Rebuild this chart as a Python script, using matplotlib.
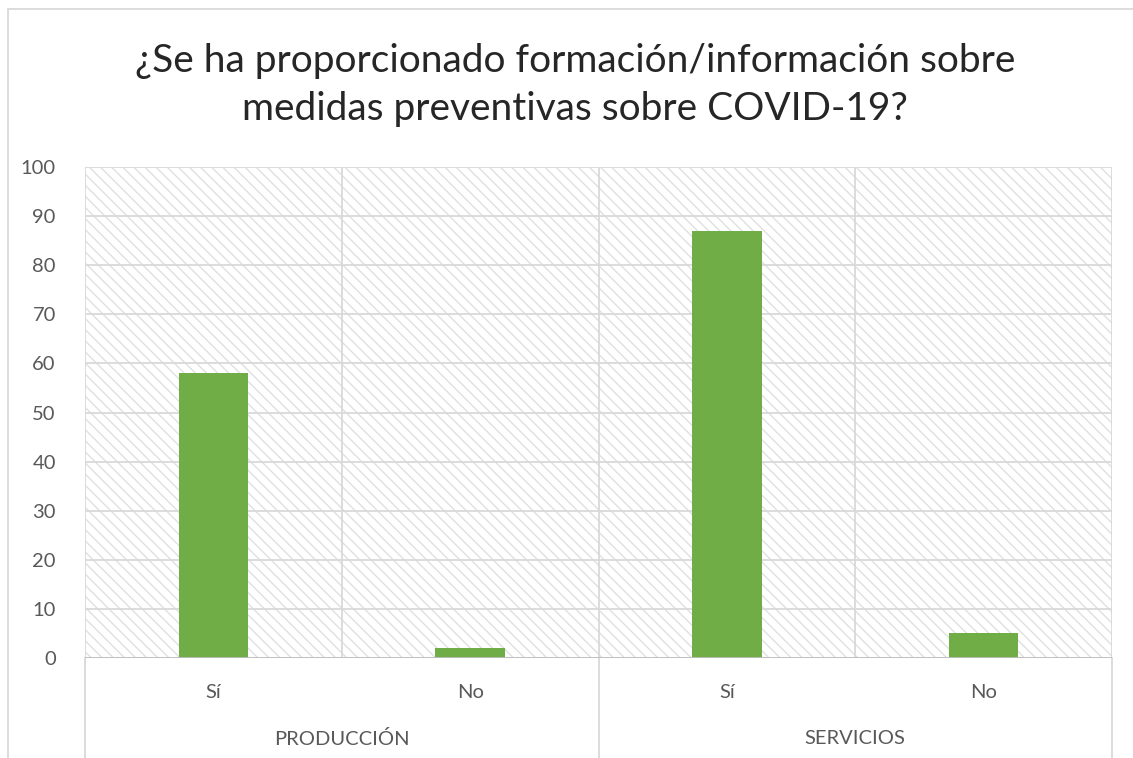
import numpy as np
import matplotlib.pyplot as plt
from matplotlib.patches import Rectangle
import matplotlib.transforms as mtransforms

plt.rcParams['font.family'] = ['Lato', 'DejaVu Sans']
plt.rcParams['hatch.linewidth'] = 1.0

# data
groups = ['PRODUCCIÓN', 'SERVICIOS']
answers = ['Sí', 'No', 'Sí', 'No']
values = [58, 2, 87, 5]
title = '¿Se ha proporcionado formación/información sobre\nmedidas preventivas sobre COVID-19?'

grid_col = '#d9d9d9'
text_col = '#595959'

fig = plt.figure(figsize=(11.33, 7.58), dpi=100)
ax = fig.add_axes([85/1133, 1 - 658/758, (1112 - 85)/1133, (658 - 167)/758])

# outer chart border
fig.patches.append(Rectangle((8/1133, -0.1), 1.2, 1 - 9/758 + 0.1, transform=fig.transFigure,
                             fill=False, edgecolor=grid_col, lw=1.3, zorder=0))

# hatched plot area
ax.patch.set_alpha(0)
ax.add_patch(Rectangle((0, 0), 1, 1, transform=ax.transAxes, facecolor='white',
                       edgecolor='#e0e0e0', hatch='\\\\\\', lw=0, zorder=0))

x = np.arange(len(values))
ax.bar(x, values, width=0.27, color='#70ad47', zorder=3)

ax.set_xlim(-0.5, len(values) - 0.5)
ax.set_ylim(0, 100)
ax.set_yticks(np.arange(0, 101, 10))
ax.yaxis.grid(True, color=grid_col, lw=1.3, zorder=1)
ax.set_axisbelow(True)
for b in np.arange(-0.5, len(values), 1):
    ax.axvline(b, color=grid_col, lw=1.3, zorder=1)

for s in ax.spines.values():
    s.set_visible(False)
ax.axhline(0, color='#bfbfbf', lw=1.3, zorder=4)

ax.tick_params(axis='both', length=0, labelsize=14.5, colors=text_col)
ax.tick_params(axis='y', pad=21)
ax.set_xticks(x, answers)
ax.tick_params(axis='x', pad=19)

# group separators and labels under the axis
trans = mtransforms.blended_transform_factory(ax.transData, ax.transAxes)
for b in [-0.5, 1.5, 3.5]:
    ax.plot([b, b], [0, -0.3], transform=trans, color=grid_col, lw=1.3, clip_on=False)
for i, g in enumerate(groups):
    ax.text(2 * i + 0.5, -0.164, g, transform=trans, ha='center', va='center',
            fontsize=14.5, color=text_col)

fig.text(575/1133, 1 - 85/758, title, ha='center', va='center', fontsize=28,
         color='#262626', linespacing=1.4)

fig.savefig('out.png', dpi=100)
